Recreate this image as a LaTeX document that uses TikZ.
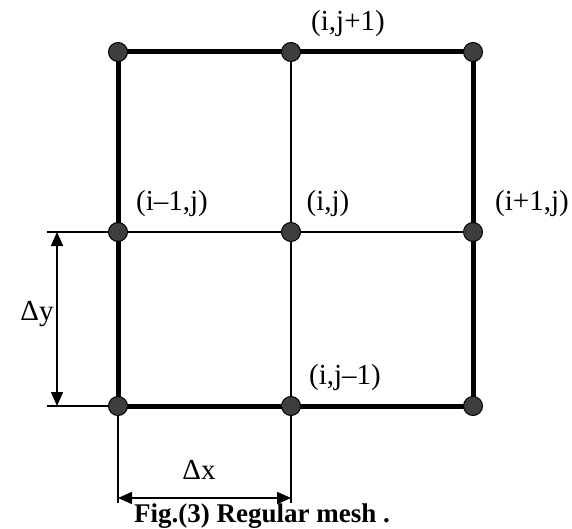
\documentclass[tikz,border=0pt]{standalone}
\usepackage{fontspec}
\setmainfont{Liberation Serif}
\usepackage{xcolor}
\definecolor{ink}{RGB}{0,0,0}
\definecolor{dotgray}{RGB}{62,62,62}
\usetikzlibrary{arrows.meta,backgrounds}
\tikzset{
  %% mesh points and lines
  meshpt/.style={circle, draw=ink, line width=0.5pt, fill=dotgray,
                 minimum size=9.5pt, inner sep=0pt},
  border/.style={draw=ink, line width=2.5pt},
  gridline/.style={draw=ink, line width=0.8pt},
  %% dimensions
  dimline/.style={draw=ink, line width=0.75pt},
  dimarrow/.style={dimline,
    {Triangle[length=7pt,width=6pt]}-{Triangle[length=7pt,width=6pt]}},
  lbl/.style={font=\fontsize{14.5}{16}\selectfont, inner sep=0pt},
}

\begin{document}
\begin{tikzpicture}[x=0.5pt,y=-0.5pt]
  \useasboundingbox (0,0) rectangle (572,529);
  %% mesh points
  \node[meshpt] (tl) at (118,52)  {};
  \node[meshpt] (tc) at (291,52)  {};
  \node[meshpt] (tr) at (473,52)  {};
  \node[meshpt] (ml) at (118,232) {};
  \node[meshpt] (mc) at (291,232) {};
  \node[meshpt] (mr) at (473,232) {};
  \node[meshpt] (bl) at (118,406) {};
  \node[meshpt] (bc) at (291,406) {};
  \node[meshpt] (br) at (473,406) {};
  %% ends of the extension lines
  \coordinate (yext1) at (47,232);
  \coordinate (yext2) at (47,406);
  \coordinate (xext1) at (118,503);
  \coordinate (xext2) at (291,503);
  \coordinate (ya) at (57,232);
  \coordinate (yb) at (57,406);
  \coordinate (xa) at (118,498);
  \coordinate (xb) at (291,498);
  \begin{scope}[on background layer]
    \draw[gridline] (yext1) -- (mr.center);
    \draw[gridline] (tc.center) -- (xext2);
    \draw[gridline] (yext2) -- (bl.center) -- (xext1);
    \draw[border] (tl.center) -- (tr.center) -- (br.center)
      -- (bl.center) -- cycle;
  \end{scope}
  %% dimensions
  \draw[dimarrow] (ya) -- (yb);
  \draw[dimarrow] (xa) -- (xb);
  \node[lbl] (dy) at (37,314) {Δy};
  \node[lbl] (dx) at (199,470) {Δx};
  %% point labels
  \node[lbl] (l-tc) at (348,24)  {(i,j+1)};
  \node[lbl] (l-ml) at (172,204) {(i–1,j)};
  \node[lbl] (l-mc) at (328,204) {(i,j)};
  \node[lbl] (l-mr) at (532,204) {(i+1,j)};
  \node[lbl] (l-bc) at (345,378) {(i,j–1)};
  %% caption
  \node[font=\fontsize{13.5}{15}\selectfont\bfseries, inner sep=0pt]
    (caption) at (262,516) {Fig.(3) Regular mesh .};
\end{tikzpicture}
\end{document}
